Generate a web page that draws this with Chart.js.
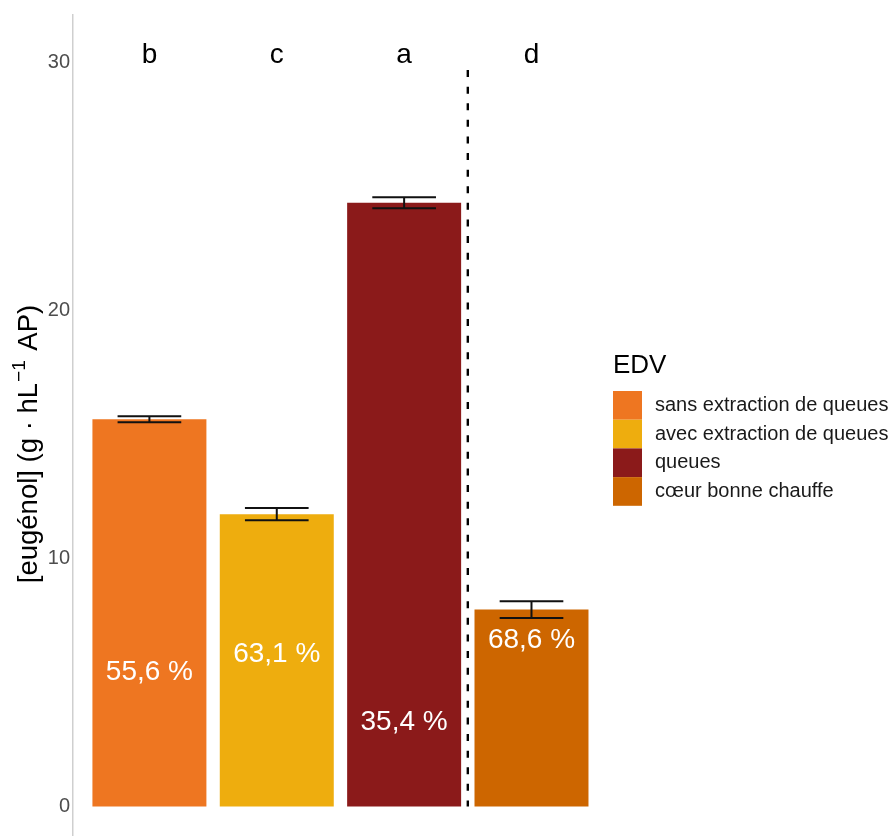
<!DOCTYPE html>
<html>
<head>
<meta charset="utf-8">
<script src="https://cdn.jsdelivr.net/npm/chart.js@4/dist/chart.umd.min.js"></script>
<style>
  html, body { margin: 0; padding: 0; background: #ffffff; }
  #wrap { width: 895px; height: 838px; }
</style>
</head>
<body>
<div id="wrap"><canvas id="c" width="895" height="838"></canvas></div>
<script>
// ---- data ----
const categories = ['sans extraction de queues', 'avec extraction de queues', 'queues', 'cœur bonne chauffe'];
const positions = [1, 2, 3, 4];
const eugenol = [15.62, 11.79, 24.35, 7.94];
const eugenolSd = [0.12, 0.25, 0.22, 0.34];
const letters = ['b', 'c', 'a', 'd'];
const letterY = 30.3;
const percents = [55.6, 63.1, 35.4, 68.6];
const percentLabelY = [5.40, 6.15, 3.38, 6.70];
const separatorX = 3.5;
const separatorY = [29.7, 0];
const yTicks = [0, 10, 20, 30];
const legendTitle = 'EDV';
const yTitleParts = ['[eugénol] (g · hL', '−1', ' AP)'];
const colors = ['#EE7621', '#EEAD0E', '#8B1A1A', '#CD6600'];

// ---- styles ----
const FONT = "'Liberation Sans', Arial, Helvetica, sans-serif";
const errHalf = 0.25;

const overlay = {
  id: 'overlay',
  afterDatasetsDraw(chart) {
    const { ctx, scales: { x, y } } = chart;
    ctx.save();
    // error bars
    ctx.strokeStyle = '#111111';
    ctx.lineWidth = 2;
    positions.forEach((p, i) => {
      const xl = x.getPixelForValue(p - errHalf);
      const xr = x.getPixelForValue(p + errHalf);
      const xc = x.getPixelForValue(p);
      const yt = y.getPixelForValue(eugenol[i] + eugenolSd[i]);
      const yb = y.getPixelForValue(eugenol[i] - eugenolSd[i]);
      ctx.beginPath();
      ctx.moveTo(xl, yt); ctx.lineTo(xr, yt);
      ctx.moveTo(xl, yb); ctx.lineTo(xr, yb);
      ctx.moveTo(xc, yt); ctx.lineTo(xc, yb);
      ctx.stroke();
    });
    // percentage labels
    ctx.fillStyle = '#ffffff';
    ctx.font = '28px ' + FONT;
    ctx.textAlign = 'center';
    ctx.textBaseline = 'middle';
    positions.forEach((p, i) => {
      const label = percents[i].toFixed(1).replace('.', ',') + ' %';
      ctx.fillText(label, x.getPixelForValue(p), y.getPixelForValue(percentLabelY[i]));
    });
    // significance letters
    ctx.fillStyle = '#000000';
    ctx.font = '28px ' + FONT;
    positions.forEach((p, i) => {
      ctx.fillText(letters[i], x.getPixelForValue(p), y.getPixelForValue(letterY));
    });
    ctx.restore();
  },
  afterDraw(chart) {
    const { ctx, chartArea } = chart;
    ctx.save();
    // y-axis title with superscript
    const mainFont = '27.5px ' + FONT;
    const supFont = '19px ' + FONT;
    ctx.font = mainFont;
    const w0 = ctx.measureText(yTitleParts[0]).width;
    const w2 = ctx.measureText(yTitleParts[2]).width;
    ctx.font = supFont;
    const w1 = ctx.measureText(yTitleParts[1]).width;
    const total = w0 + w1 + w2 + 3;
    ctx.translate(29, 444);
    ctx.rotate(-Math.PI / 2);
    ctx.fillStyle = '#000000';
    ctx.textAlign = 'left';
    ctx.textBaseline = 'middle';
    let cx = -total / 2;
    ctx.font = mainFont;
    ctx.fillText(yTitleParts[0], cx, 0);
    cx += w0 + 1;
    ctx.font = supFont;
    ctx.fillText(yTitleParts[1], cx, -9);
    cx += w1 + 2;
    ctx.font = mainFont;
    ctx.fillText(yTitleParts[2], cx, 0);
    ctx.restore();

    // legend
    ctx.save();
    const lx = chartArea.right;
    ctx.fillStyle = '#000000';
    ctx.font = '26px ' + FONT;
    ctx.textAlign = 'left';
    ctx.textBaseline = 'middle';
    ctx.fillText(legendTitle, lx, 366);
    const keyW = 29, keyH = 28.7, top = 391;
    ctx.font = '20px ' + FONT;
    categories.forEach((c, i) => {
      ctx.fillStyle = colors[i];
      ctx.fillRect(lx, top + i * keyH, keyW, keyH);
      ctx.fillStyle = '#1a1a1a';
      ctx.fillText(c, lx + 42, top + i * keyH + keyH / 2);
    });
    ctx.restore();
  }
};

new Chart(document.getElementById('c'), {
  data: {
    datasets: [
      {
        type: 'bar',
        data: positions.map((p, i) => ({ x: p, y: eugenol[i] })),
        backgroundColor: colors,
        borderWidth: 0,
        barPercentage: 0.895,
        categoryPercentage: 1,
        order: 2
      },
      {
        type: 'line',
        data: separatorY.map(v => ({ x: separatorX, y: v })),
        borderColor: '#000000',
        borderWidth: 2.4,
        borderDash: [7, 9.6],
        pointRadius: 0,
        fill: false,
        order: 1
      }
    ]
  },
  options: {
    responsive: false,
    animation: false,
    layout: { padding: { top: 15, bottom: 3, left: 0, right: 282 } },
    scales: {
      x: {
        type: 'linear',
        display: false,
        offset: false,
        min: 0.4,
        max: 4.64,
        afterBuildTicks: (axis) => { axis.ticks = positions.map(v => ({ value: v })); }
      },
      y: {
        type: 'linear',
        min: -1.15,
        max: 31.92,
        afterBuildTicks: (axis) => { axis.ticks = yTicks.map(v => ({ value: v })); },
        afterFit: (axis) => {
          axis.width = 73;
          axis.paddingTop = 0;
          axis.paddingBottom = 0;
        },
        grid: { display: false, drawTicks: false },
        border: { display: true, color: '#cfcfcf', width: 1.5 },
        ticks: {
          color: '#4d4d4d',
          padding: 3,
          font: { family: FONT, size: 20 }
        },
        title: { display: false }
      }
    },
    plugins: {
      tooltip: { enabled: false },
      legend: { display: false }
    }
  },
  plugins: [overlay]
});
</script>
</body>
</html>
